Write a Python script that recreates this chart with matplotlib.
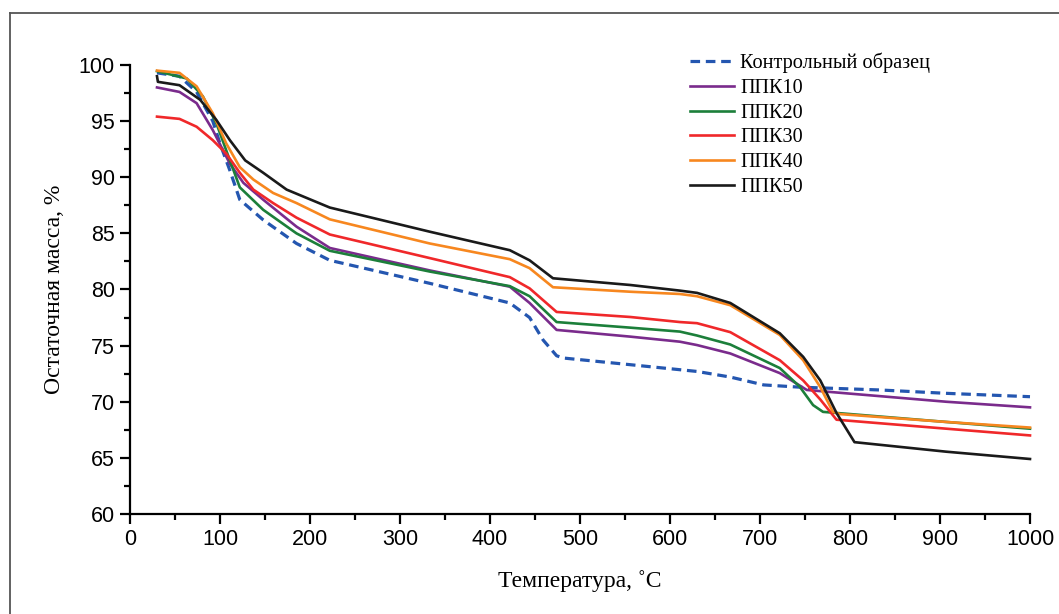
import matplotlib.pyplot as plt
from matplotlib.lines import Line2D
from matplotlib.ticker import MultipleLocator

# Контрольный образец
t_ctrl = [30, 55, 74, 92, 100, 111, 122, 148, 185, 222, 333, 422, 444, 459, 474, 481,
          556, 630, 667, 704, 744, 833, 907, 1000]
m_ctrl = [99.3, 99.0, 97.6, 95.0, 93.0, 90.6, 88.0, 86.2, 84.1, 82.6, 80.55, 78.8, 77.5, 75.5,
          74.1, 73.9, 73.3, 72.7, 72.2, 71.5, 71.3, 71.05, 70.75, 70.45]

# ППК10
t_10 = [30, 55, 74, 92, 111, 126, 148, 185, 222, 333, 422, 444, 474, 556, 611, 630, 667,
        722, 752, 796, 907, 1000]
m_10 = [98.0, 97.6, 96.6, 94.2, 91.2, 89.5, 88.0, 85.6, 83.7, 81.7, 80.25, 78.8, 76.4, 75.8,
        75.35, 75.05, 74.3, 72.55, 71.05, 70.75, 70.0, 69.5]

# ППК20
t_20 = [30, 63, 81, 96, 111, 122, 148, 185, 222, 333, 422, 444, 474, 556, 611, 630, 667,
        722, 744, 759, 770, 907, 1000]
m_20 = [99.45, 98.8, 97.2, 94.8, 91.5, 89.1, 87.1, 85.0, 83.45, 81.6, 80.3, 79.4, 77.1, 76.6,
        76.25, 75.9, 75.1, 73.0, 71.35, 69.7, 69.1, 68.2, 67.6]

# ППК30
t_30 = [30, 55, 74, 92, 107, 122, 137, 159, 185, 222, 333, 422, 444, 474, 556, 611, 630,
        667, 722, 748, 767, 785, 907, 1000]
m_30 = [95.4, 95.2, 94.5, 93.3, 92.1, 90.4, 88.9, 87.7, 86.4, 84.9, 82.8, 81.1, 80.1, 78.0,
        77.55, 77.1, 77.0, 76.2, 73.7, 71.9, 70.2, 68.4, 67.6, 67.0]

# ППК40
t_40 = [30, 55, 74, 92, 107, 122, 137, 159, 185, 222, 333, 422, 444, 470, 556, 611, 630,
        667, 722, 748, 767, 781, 789, 907, 1000]
m_40 = [99.5, 99.3, 98.1, 95.7, 93.0, 90.9, 89.8, 88.6, 87.7, 86.25, 84.1, 82.7, 81.9, 80.2,
        79.8, 79.6, 79.4, 78.6, 75.95, 73.7, 71.3, 69.1, 68.9, 68.2, 67.7]

# ППК50
t_50 = [30, 31, 55, 78, 96, 111, 128, 148, 174, 222, 333, 422, 444, 470, 556, 611, 630, 667,
        722, 748, 767, 785, 805, 907, 1000]
m_50 = [99.0, 98.5, 98.2, 96.9, 95.1, 93.3, 91.5, 90.4, 88.9, 87.3, 85.15, 83.5, 82.6, 81.0,
        80.4, 79.9, 79.7, 78.8, 76.1, 74.0, 71.9, 69.0, 66.4, 65.55, 64.9]

series = [
    ("Контрольный образец", t_ctrl, m_ctrl, "#2456b0", (0, (3.0, 1.8))),
    ("ППК10", t_10, m_10, "#7a2b8c", "-"),
    ("ППК20", t_20, m_20, "#1c7f3a", "-"),
    ("ППК30", t_30, m_30, "#f0282a", "-"),
    ("ППК40", t_40, m_40, "#f7871f", "-"),
    ("ППК50", t_50, m_50, "#1a1a1a", "-"),
]

fig = plt.figure(figsize=(10.59, 6.14), dpi=100)
ax = fig.add_axes([130 / 1059, 100 / 614, 900 / 1059, 449 / 614])

for label, t, m, color, ls in series:
    lw = 2.3 if label.startswith("Контр") else 1.9
    ax.plot(t, m, color=color, ls=ls, lw=lw, label=label, clip_on=False,
            solid_joinstyle="round")

ax.set_xlim(0, 1000)
ax.set_ylim(60, 100)
ax.xaxis.set_major_locator(MultipleLocator(100))
ax.xaxis.set_minor_locator(MultipleLocator(50))
ax.yaxis.set_major_locator(MultipleLocator(5))
ax.yaxis.set_minor_locator(MultipleLocator(2.5))
for side in ("top", "right"):
    ax.spines[side].set_visible(False)
for side in ("left", "bottom"):
    ax.spines[side].set_linewidth(1.6)
ax.tick_params(which="major", length=7, width=1.6, direction="out",
               labelsize=15.5, pad=4)
ax.tick_params(which="minor", length=4, width=1.6, direction="out")
for lab in ax.get_xticklabels() + ax.get_yticklabels():
    lab.set_family("Liberation Sans")

ax.set_xlabel("Температура, ˚C", family="Liberation Serif", fontsize=17, labelpad=14)
ax.set_ylabel("Остаточная масса, %", family="Liberation Serif", fontsize=17, labelpad=10)

ax.legend(loc="upper left", bbox_to_anchor=(0.622, 1.027), frameon=False,
          prop={"family": "Liberation Serif", "size": 14.6}, handlelength=2.2,
          handletextpad=0.3, labelspacing=0.27, borderpad=0, borderaxespad=0)

# рамка вокруг рисунка
fig.add_artist(Line2D([10 / 1059, 10 / 1059], [0, 1 - 13 / 614], color="#555555", lw=1.3))
fig.add_artist(Line2D([10 / 1059, 1], [1 - 13 / 614, 1 - 13 / 614], color="#555555", lw=1.3))

fig.savefig("out.png", dpi=100)
